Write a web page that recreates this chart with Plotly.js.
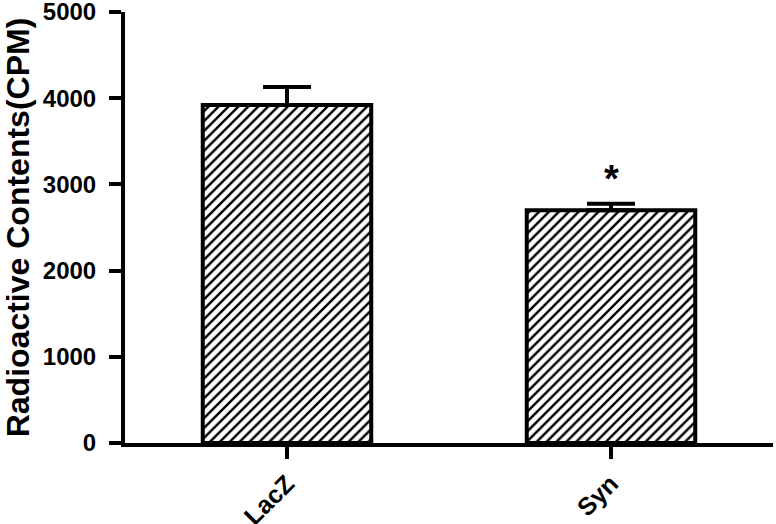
<!DOCTYPE html>
<html>
<head>
<meta charset="utf-8">
<script src="https://cdn.plot.ly/plotly-3.0.1.min.js"></script>
<style>
    html, body { margin: 0; padding: 0; background: #fff; }
    #plot { width: 776px; height: 524px; }
</style>
</head>
<body>
<div id="plot"></div>
<script>
var groups = ["LacZ", "Syn"];
var means = [3920, 2700];
var errUp = [210, 75];
var errDown = [0, 0];
var yTicks = [0, 1000, 2000, 3000, 4000, 5000];

document.addEventListener('DOMContentLoaded', function () {
    var trace = {
        x: groups,
        y: means,
        type: 'bar',
        marker: {
            color: 'white',
            line: { color: 'black', width: 4 },
            pattern: { shape: '/', fgcolor: 'black', bgcolor: 'white', size: 7, solidity: 0.35 }
        },
        error_y: {
            type: 'data',
            symmetric: false,
            array: errUp,
            arrayminus: errDown,
            color: 'black',
            thickness: 4,
            width: 24
        },
        hoverinfo: 'none'
    };

    var layout = {
        width: 776,
        height: 524,
        margin: { l: 125, r: 3, t: 12, b: 81 },
        paper_bgcolor: 'white',
        plot_bgcolor: 'white',
        showlegend: false,
        bargap: 0.48,
        font: { family: 'Liberation Sans, Arial', color: 'black', weight: 'bold' },
        xaxis: {
            type: 'category',
            range: [-0.5, 1.5],
            showline: true,
            linecolor: 'black',
            linewidth: 4,
            ticks: 'outside',
            ticklen: 12,
            tickwidth: 4,
            tickcolor: 'black',
            tickangle: -45,
            ticklabeloverflow: 'allow',
            tickfont: { size: 25, weight: 'bold' },
            showgrid: false,
            zeroline: false
        },
        yaxis: {
            range: [0, 5000],
            tickvals: yTicks,
            showline: true,
            linecolor: 'black',
            linewidth: 4,
            ticks: 'outside',
            ticklen: 12,
            tickwidth: 4,
            tickcolor: 'black',
            ticklabelstandoff: 8,
            ticklabeloverflow: 'allow',
            tickfont: { size: 24, weight: 'bold' },
            showgrid: false,
            zeroline: false,
            automargin: 'left',
            title: {
                text: 'Radioactive Contents(CPM)',
                font: { size: 32, weight: 'bold' },
                standoff: 5
            }
        },
        annotations: [{
            x: 'Syn',
            y: 2800,
            xref: 'x',
            yref: 'y',
            text: '*',
            showarrow: false,
            font: { size: 38, weight: 'bold', color: 'black' },
            yanchor: 'bottom'
        }]
    };

    Plotly.newPlot('plot', [trace], layout, { displayModeBar: false, staticPlot: true });
});
</script>
</body>
</html>
